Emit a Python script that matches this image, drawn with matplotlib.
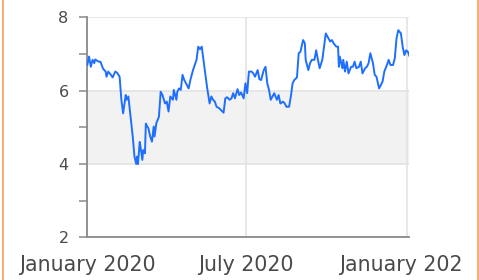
import matplotlib
matplotlib.use("Agg")
import matplotlib.pyplot as plt
import matplotlib.dates as mdates
from matplotlib.transforms import Bbox, TransformedBbox
from matplotlib.lines import Line2D
import pandas as pd
import numpy as np

plt.rcParams['font.family'] = ['DejaVu Sans']

# days since 2020-01-01
days = [0, 2, 4, 6, 8, 9, 13, 15, 18, 21, 22, 24, 27, 29, 32, 34, 37, 39, 41, 44,
        45, 47, 50, 52, 54, 56, 57, 58, 60, 61, 63, 64, 66, 67, 68, 70, 72, 74, 76, 77,
        79, 82, 84, 86, 89, 91, 93, 95, 98, 99, 102, 103, 105, 107, 109, 111, 113, 116, 118, 121,
        123, 125, 127, 129, 131, 134, 137, 140, 142, 144, 146, 148, 151, 153, 156, 158, 160, 163, 165, 167,
        169, 172, 174, 176, 179, 181, 183, 185, 188, 190, 192, 195, 197, 199, 202, 204, 206, 208, 210, 212,
        214, 217, 219, 221, 224, 226, 228, 231, 233, 235, 237, 240, 242, 244, 247, 249, 250, 253, 255, 257,
        260, 262, 264, 266, 269, 271, 273, 276, 278, 280, 282, 285, 287, 288, 289, 292, 293, 295, 297, 299,
        302, 304, 306, 308, 311, 313, 315, 318, 320, 322, 324, 327, 329, 331, 334, 336, 338, 340, 343, 345,
        347, 350, 352, 354, 356, 359, 361, 363, 365, 367, 369]
values = [6.70, 6.93, 6.65, 6.84, 6.75, 6.85, 6.79, 6.79, 6.60, 6.52, 6.38, 6.52, 6.43, 6.36, 6.52, 6.49, 6.38, 5.75, 5.38, 5.88,
          5.75, 5.84, 5.20, 4.75, 4.20, 4.00, 4.20, 4.00, 4.60, 4.45, 4.11, 4.38, 4.29, 5.10, 5.05, 4.97, 4.75, 4.61, 5.02, 4.75,
          5.11, 5.29, 5.97, 5.88, 5.65, 5.70, 5.43, 5.84, 5.75, 6.02, 5.75, 5.97, 6.06, 6.02, 6.43, 6.29, 6.20, 6.06, 6.29, 6.56,
          6.70, 6.84, 7.20, 7.13, 7.20, 6.65, 6.11, 5.65, 5.84, 5.75, 5.70, 5.56, 5.52, 5.47, 5.40, 5.79, 5.82, 5.75, 5.79, 5.93,
          5.79, 6.04, 5.88, 5.95, 5.79, 6.20, 5.93, 6.52, 6.52, 6.47, 6.38, 6.56, 6.31, 6.29, 6.56, 6.65, 6.20, 6.02, 5.75, 5.84,
          5.93, 5.75, 5.88, 5.65, 5.70, 5.65, 5.56, 5.56, 5.84, 6.20, 6.29, 6.36, 7.02, 7.06, 7.38, 7.29, 6.84, 6.56, 6.75, 6.84,
          6.84, 7.10, 6.84, 6.61, 6.84, 7.20, 7.56, 7.43, 7.34, 7.38, 7.29, 7.20, 7.20, 6.65, 6.93, 6.61, 6.84, 6.52, 6.79, 6.47,
          6.65, 6.65, 6.79, 6.61, 6.65, 6.79, 6.47, 6.61, 6.65, 6.75, 7.02, 6.75, 6.43, 6.38, 6.06, 6.15, 6.25, 6.52, 6.70, 6.84,
          6.70, 6.70, 6.88, 7.43, 7.65, 7.56, 7.20, 6.97, 7.10, 7.06, 6.93]

tick_dates = ["2020-01-01", "2020-07-01", "2021-01-01"]
band_low, band_high = 4, 6

W, H = 479, 280
fig = plt.figure(figsize=(W / 100, H / 100), dpi=100)
ax = fig.add_axes([87.3 / W, 1 - 237.3 / H, (409.3 - 87.3) / W, (237.3 - 17.3) / H])

start = pd.Timestamp("2020-01-01")
dates = [start + pd.Timedelta(days=d) for d in days]

ax.axhspan(band_low, band_high, color="#f2f2f2", zorder=0, lw=0)
ax.plot(dates, values, color="#1f6fff", lw=1.4, zorder=3)

ax.set_ylim(2, 8)
ax.set_xlim(start, start + pd.Timedelta(days=368.6))
ax.set_yticks([2, 4, 6, 8])
ax.set_yticks([3, 5, 7], minor=True)
ax.set_xticks([pd.Timestamp(t) for t in tick_dates])
ax.xaxis.set_major_formatter(mdates.DateFormatter("%B %Y"))

ax.grid(True, which="major", color="#e3e3e3", lw=1.2, zorder=1)
ax.set_axisbelow(True)
for s in ["top", "right"]:
    ax.spines[s].set_visible(False)
for s in ["left", "bottom"]:
    ax.spines[s].set_color("#8a8a8a")
    ax.spines[s].set_linewidth(1.3)

ax.tick_params(axis="y", which="both", length=5.5, width=1.1, color="#8a8a8a",
               labelsize=11.5, labelcolor="#4a4a4a", pad=8)
ax.tick_params(axis="x", length=0, labelsize=14.8, labelcolor="#4a4a4a", pad=13)

clip = TransformedBbox(Bbox([[0, 0], [463 / W, 1]]), fig.transFigure)
for t in ax.xaxis.get_major_ticks():
    t.label1.set_clip_on(True)
    t.label1.set_clip_box(clip)

for xpos in [2.5 / W, 477.5 / W]:
    fig.add_artist(Line2D([xpos, xpos], [0, 1], transform=fig.transFigure,
                          color="#f7a05a", lw=1.2))

fig.savefig("out.png", dpi=100)
